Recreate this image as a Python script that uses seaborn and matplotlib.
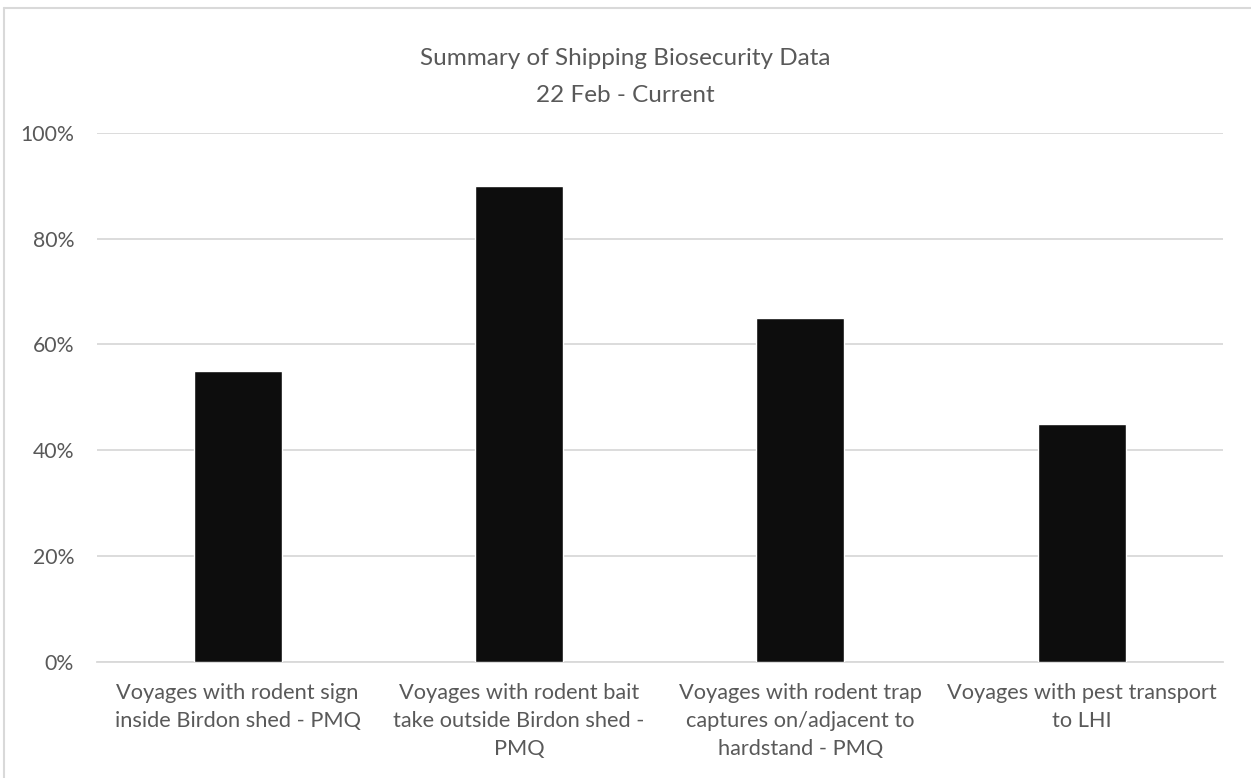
import matplotlib
matplotlib.use('Agg')
import matplotlib.pyplot as plt
import seaborn as sns
import pandas as pd
from matplotlib.lines import Line2D
from matplotlib.ticker import PercentFormatter

# Chart data
categories = [
    'Voyages with rodent sign\ninside Birdon shed - PMQ',
    'Voyages with rodent bait\ntake outside Birdon shed -\nPMQ',
    'Voyages with rodent trap\ncaptures on/adjacent to\nhardstand - PMQ',
    'Voyages with pest transport\nto LHI',
]
values = [0.55, 0.90, 0.65, 0.45]
y_ticks = [0, 0.2, 0.4, 0.6, 0.8, 1.0]

df = pd.DataFrame({'category': categories, 'value': values})

sns.set_style('white')
plt.rcParams['font.family'] = ['Lato', 'DejaVu Sans']
text_color = '#595959'
grid_color = '#d9d9d9'

fig = plt.figure(figsize=(12.51, 7.78), dpi=100)
ax = fig.add_axes([97 / 1251, 1 - 661.7 / 778, (1222.5 - 97) / 1251, (661.7 - 133) / 778])

sns.barplot(data=df, x='category', y='value', color='#0d0d0d', width=0.313,
            saturation=1, ax=ax, zorder=3)

ax.set_ylim(0, 1.0)
ax.set_yticks(y_ticks)
ax.yaxis.set_major_formatter(PercentFormatter(1.0, decimals=0))
ax.grid(axis='y', color=grid_color, linewidth=1.3, zorder=0)
ax.set_axisbelow(True)
for side in ['top', 'right', 'left']:
    ax.spines[side].set_visible(False)
ax.spines['bottom'].set_color(grid_color)
ax.spines['bottom'].set_linewidth(1.3)
ax.tick_params(axis='y', length=0, pad=16.5, labelsize=15.3, labelcolor=text_color)
ax.tick_params(axis='x', length=0, pad=15, labelsize=15.7, labelcolor=text_color)
for lbl in ax.get_xticklabels():
    lbl.set_linespacing(1.5)
ax.set_xlabel('')
ax.set_ylabel('')

fig.text(0.5, 1 - 77 / 778, 'Summary of Shipping Biosecurity Data\n22 Feb - Current',
         ha='center', va='center', fontsize=17.5, color=text_color, linespacing=1.95)

# Chart frame (only top and left edges are visible in the crop)
fig.add_artist(Line2D([4 / 1251, 1], [1 - 8 / 778, 1 - 8 / 778], color=grid_color, linewidth=1.5))
fig.add_artist(Line2D([4 / 1251, 4 / 1251], [0, 1 - 8 / 778], color=grid_color, linewidth=1.5))

fig.savefig('out.png', dpi=100, facecolor='white')
